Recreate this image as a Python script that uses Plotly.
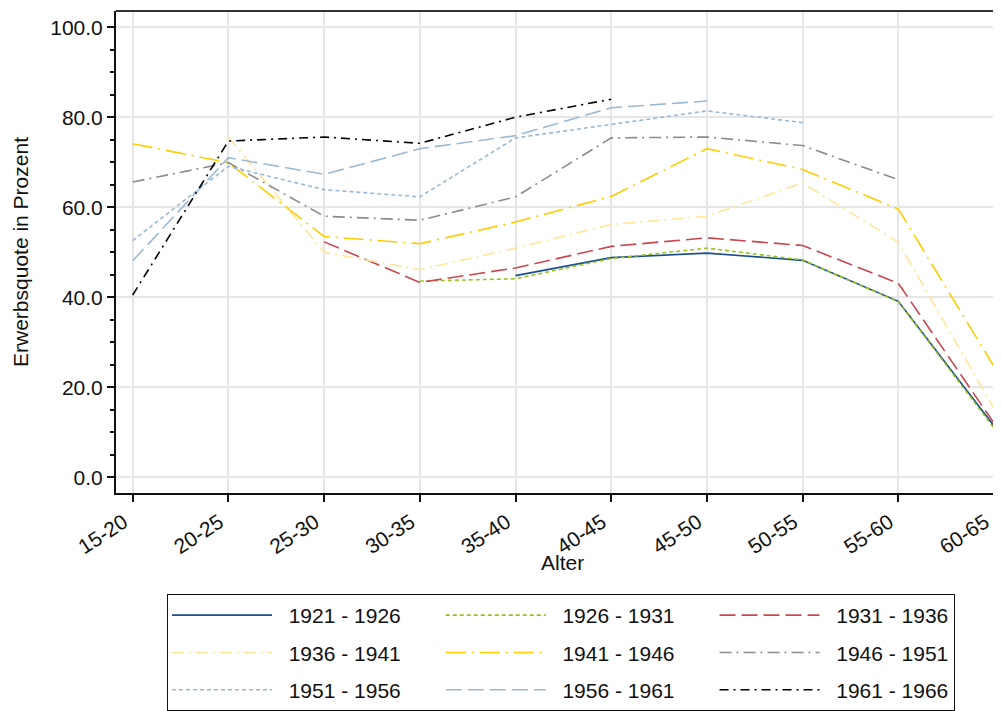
import plotly.graph_objects as go

ages = ["15-20", "20-25", "25-30", "30-35", "35-40", "40-45", "45-50", "50-55", "55-60", "60-65"]

c1921 = [None, None, None, None, 44.8, 48.8, 49.8, 48.2, 39.1, 11.4]
c1926 = [None, None, None, 43.6, 44.1, 48.6, 50.9, 48.3, 39.0, 10.9]
c1931 = [None, None, 52.3, 43.3, 46.5, 51.3, 53.2, 51.5, 43.1, 12.0]
c1936 = [None, 75.6, 50.0, 46.1, 50.9, 56.2, 58.0, 65.4, 52.2, 15.3]
c1941 = [74.1, 69.9, 53.5, 51.9, 56.7, 62.4, 73.0, 68.4, 59.6, 24.6]
c1946 = [65.6, 69.9, 58.0, 57.1, 62.3, 75.4, 75.6, 73.7, 66.1, None]
c1951 = [52.6, 69.1, 63.9, 62.3, 75.4, 78.4, 81.4, 78.8, None, None]
c1956 = [48.1, 71.0, 67.3, 73.0, 75.9, 82.1, 83.6, None, None, None]
c1961 = [40.5, 74.7, 75.6, 74.2, 80.0, 84.0, None, None, None, None]

names = ["1921 - 1926", "1926 - 1931", "1931 - 1936", "1936 - 1941", "1941 - 1946",
         "1946 - 1951", "1951 - 1956", "1956 - 1961", "1961 - 1966"]
series = [c1921, c1926, c1931, c1936, c1941, c1946, c1951, c1956, c1961]
colors = ["#1a4f8b", "#99c21c", "#c9474f", "#ffe699", "#ffcc00",
          "#8c8c8c", "#9ab9d6", "#9ab9d6", "#000000"]
dashes = ["solid", "4px,3px", "16px,6px", "12px,5px,2px,5px", "20px,6px,2px,6px",
          "12px,5px,2px,5px", "4px,3px", "16px,6px", "9px,5px,2px,5px"]

FONT = "Liberation Sans, Arial, sans-serif"
FS = 21
PAD = "\u00a0\u00a0"
TAIL = "\u00a0" * 6

fig = go.Figure()
for i, (n, s, c, d) in enumerate(zip(names, series, colors, dashes)):
    label = PAD + n + (TAIL if i % 3 != 2 else "")
    fig.add_trace(go.Scatter(x=ages, y=s, name=label, mode="lines",
                             legendgroup="g%d" % i,
                             line=dict(color=c, width=1.6, dash=d),
                             connectgaps=False))

fig.add_annotation(text="Alter", xref="paper", yref="paper", x=0.505, y=-0.1452,
                   xanchor="center", yanchor="middle", showarrow=False,
                   font=dict(family=FONT, size=FS, color="#111111"))

fig.update_layout(
    width=1001, height=711,
    margin=dict(l=108, r=8, t=3, b=226, autoexpand=False),
    plot_bgcolor="white", paper_bgcolor="white",
    font=dict(family=FONT, size=FS, color="#111111"),
    showlegend=True,
    legend=dict(orientation="h", x=0.0576, xanchor="left", y=-0.2095, yanchor="top",
                bordercolor="#111111", borderwidth=1,
                itemwidth=100, tracegroupgap=7,
                font=dict(family=FONT, size=FS, color="#111111"),
                traceorder="grouped"),
    xaxis=dict(
        type="category", range=[-0.1745, 9.073], automargin=False,
        showgrid=True, gridcolor="#e6e6e6", gridwidth=2,
        showline=True, linecolor="#111111", linewidth=2,
        ticks="outside", ticklen=7, tickwidth=1.5, tickcolor="#111111",
        tickangle=-33, tickfont=dict(size=FS), ticklabelshift=-9,
        zeroline=False,
    ),
    yaxis=dict(
        range=[-3.5, 103.6], automargin=False,
        tickvals=[0, 20, 40, 60, 80, 100], tickformat=".1f",
        showgrid=True, gridcolor="#e6e6e6", gridwidth=2,
        showline=True, linecolor="#111111", linewidth=2,
        ticks="outside", ticklen=7, tickwidth=1.5, tickcolor="#111111",
        minor=dict(dtick=5, ticks="outside", ticklen=4, tickwidth=1.5,
                   tickcolor="#111111", showgrid=False),
        tickfont=dict(size=FS),
        title=dict(text="Erwerbsquote in Prozent", font=dict(size=FS), standoff=16),
        zeroline=False,
    ),
    shapes=[dict(type="line", xref="paper", yref="paper", x0=0, x1=1, y0=1, y1=1,
                 line=dict(color="#333333", width=2))],
)

fig.write_html("out.html")
